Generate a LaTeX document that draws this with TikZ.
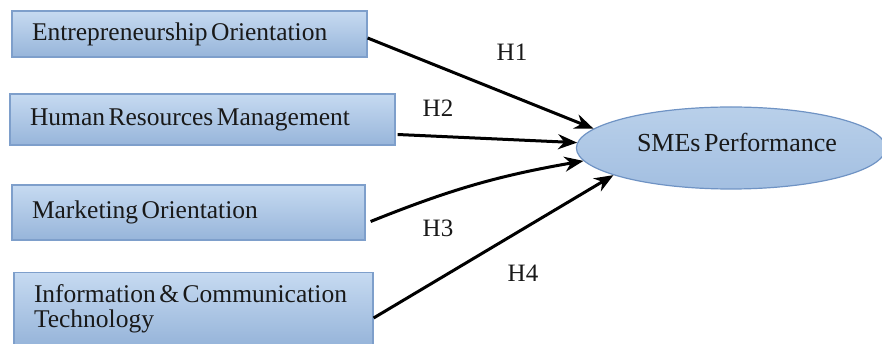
\documentclass[tikz,border=0pt]{standalone}
\usepackage{fontspec}
\setmainfont{Liberation Serif}[WordSpace=0.55]
\usetikzlibrary{arrows.meta,shapes.geometric}
\definecolor{boxtop}{HTML}{C6DAF1}
\definecolor{boxbot}{HTML}{97B5DA}
\definecolor{boxline}{HTML}{7E9FCB}
\definecolor{elltop}{HTML}{B9D0EA}
\definecolor{ellbot}{HTML}{A3BFE1}
\definecolor{ellline}{HTML}{6F93C4}

\begin{document}
\begin{tikzpicture}[x=1pt,y=-1pt,>={Stealth[length=19pt,width=15pt]},
    factor/.style={rectangle,draw=boxline,line width=1.2pt,top color=boxtop,bottom color=boxbot,
        align=left,inner xsep=20pt,font=\fontsize{25.5}{24.5}\selectfont,text=black!90,
        execute at begin node={\spaceskip=0pt\relax}},
    outcome/.style={ellipse,draw=ellline,line width=1.2pt,top color=elltop,bottom color=ellbot,
        minimum width=302pt,minimum height=82pt,font=\fontsize{26}{25}\selectfont,text=black!90},
    hyp/.style={font=\fontsize{25}{25}\selectfont,text=black!90},
    link/.style={->,line width=3pt}]
            \useasboundingbox (0,0) rectangle (882,344);

            \node[factor, minimum width=355pt, minimum height=46pt, text width=315pt] (eo) at (189.5,34) {Entrepreneurship Orientation};
            \node[factor, minimum width=385pt, minimum height=51pt, text width=345pt] (hrm) at (202.5,119.5) {Human Resources Management};
            \node[factor, minimum width=353pt, minimum height=55pt, text width=313pt] (mo) at (188.5,212.5) {Marketing Orientation};
            \node[factor, minimum width=359pt, minimum height=72pt, text width=319pt, anchor=north] (ict) at (193.5,272) {Information \& Communication\\Technology};

            \node[outcome] (sme) at (731,148) {\raisebox{12pt}{\hspace{12pt}SMEs Performance}};

            \node[hyp] (h1) at (512,52) {H1};
            \node[hyp] (h2) at (438,108) {H2};
            \node[hyp] (h3) at (438,228) {H3};
            \node[hyp] (h4) at (523,273) {H4};

            \path[link]
                ([yshift=-4pt]eo.east) edge (sme.172)
                ([xshift=2pt,yshift=-15pt]hrm.east) edge (sme.178)
                ([xshift=5pt,yshift=-9pt]mo.east) edge[bend left=6] (sme.185)
                ([yshift=-46pt]ict.north east) edge (sme.193)
            ;
        \end{tikzpicture}
\end{document}
